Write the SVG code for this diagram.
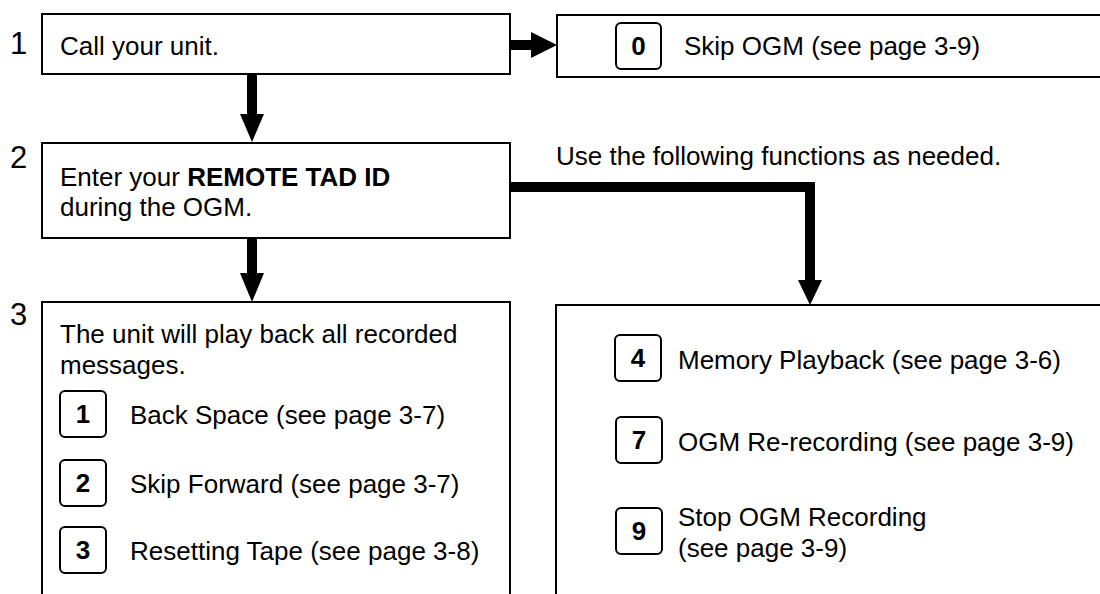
<svg xmlns="http://www.w3.org/2000/svg" width="1100" height="594" viewBox="0 0 1100 594">
<style>
text{font-family:"Liberation Sans",Arial,Helvetica,sans-serif;fill:#000}
.t{font-size:26px}
.n{font-size:31px}
.k{font-size:26px;font-weight:bold;text-anchor:middle}
.box{fill:#fff;stroke:#000;stroke-width:2}
.key{fill:#fff;stroke:#000;stroke-width:2}
.c{fill:none;stroke:#000;stroke-width:10}
.h{fill:#000}
</style>
<rect width="1100" height="594" fill="#fff"/>
<g id="connectors">
<line class="c" x1="510" y1="45" x2="534" y2="45"/>
<polygon class="h" points="531,32 557,45 531,58"/>
<line class="c" x1="252" y1="74" x2="252" y2="116"/>
<polygon class="h" points="240,114 264,114 252,142"/>
<polyline class="c" points="510,187 810,187 810,284"/>
<polygon class="h" points="798,280 822,280 810,305"/>
<line class="c" x1="252" y1="238" x2="252" y2="276"/>
<polygon class="h" points="240,273 264,273 252,302"/>
</g>
<g id="step1">
<text class="n" x="10" y="54">1</text>
<rect class="box" x="42" y="14" width="468" height="60"/>
<text class="t" x="60" y="55">Call your unit.</text>
</g>
<g id="skip-ogm">
<rect class="box" x="557" y="15" width="560" height="62"/>
<rect class="key" x="616" y="23" width="45" height="46" rx="5"/>
<text class="k" x="638.5" y="55">0</text>
<text class="t" x="684" y="55">Skip OGM (see page 3-9)</text>
</g>
<g id="step2">
<text class="n" x="10" y="168">2</text>
<rect class="box" x="42" y="143" width="468" height="95"/>
<text class="t" x="60" y="186">Enter your <tspan font-weight="bold">REMOTE TAD ID</tspan></text>
<text class="t" x="60" y="216">during the OGM.</text>
</g>
<g id="note">
<text class="t" x="556" y="165">Use the following functions as needed.</text>
</g>
<g id="step3">
<text class="n" x="10" y="325">3</text>
<rect class="box" x="42" y="302" width="468" height="310"/>
<text class="t" x="60" y="343">The unit will play back all recorded</text>
<text class="t" x="60" y="374">messages.</text>
<rect class="key" x="60" y="391" width="46" height="46" rx="5"/>
<text class="k" x="83" y="423">1</text>
<text class="t" x="130" y="424">Back Space (see page 3-7)</text>
<rect class="key" x="60" y="460" width="46" height="46" rx="5"/>
<text class="k" x="83" y="492">2</text>
<text class="t" x="130" y="493">Skip Forward (see page 3-7)</text>
<rect class="key" x="60" y="527" width="46" height="46" rx="5"/>
<text class="k" x="83" y="559">3</text>
<text class="t" x="130" y="560">Resetting Tape (see page 3-8)</text>
</g>
<g id="functions">
<rect class="box" x="556" y="305" width="560" height="310"/>
<rect class="key" x="615" y="335" width="46" height="46" rx="5"/>
<text class="k" x="638" y="367">4</text>
<text class="t" x="678" y="369">Memory Playback (see page 3-6)</text>
<rect class="key" x="616" y="417" width="46" height="46" rx="5"/>
<text class="k" x="639" y="449">7</text>
<text class="t" x="678" y="451">OGM Re-recording (see page 3-9)</text>
<rect class="key" x="616" y="508" width="46" height="46" rx="5"/>
<text class="k" x="639" y="540">9</text>
<text class="t" x="678" y="526">Stop OGM Recording</text>
<text class="t" x="678" y="557">(see page 3-9)</text>
</g>
</svg>
